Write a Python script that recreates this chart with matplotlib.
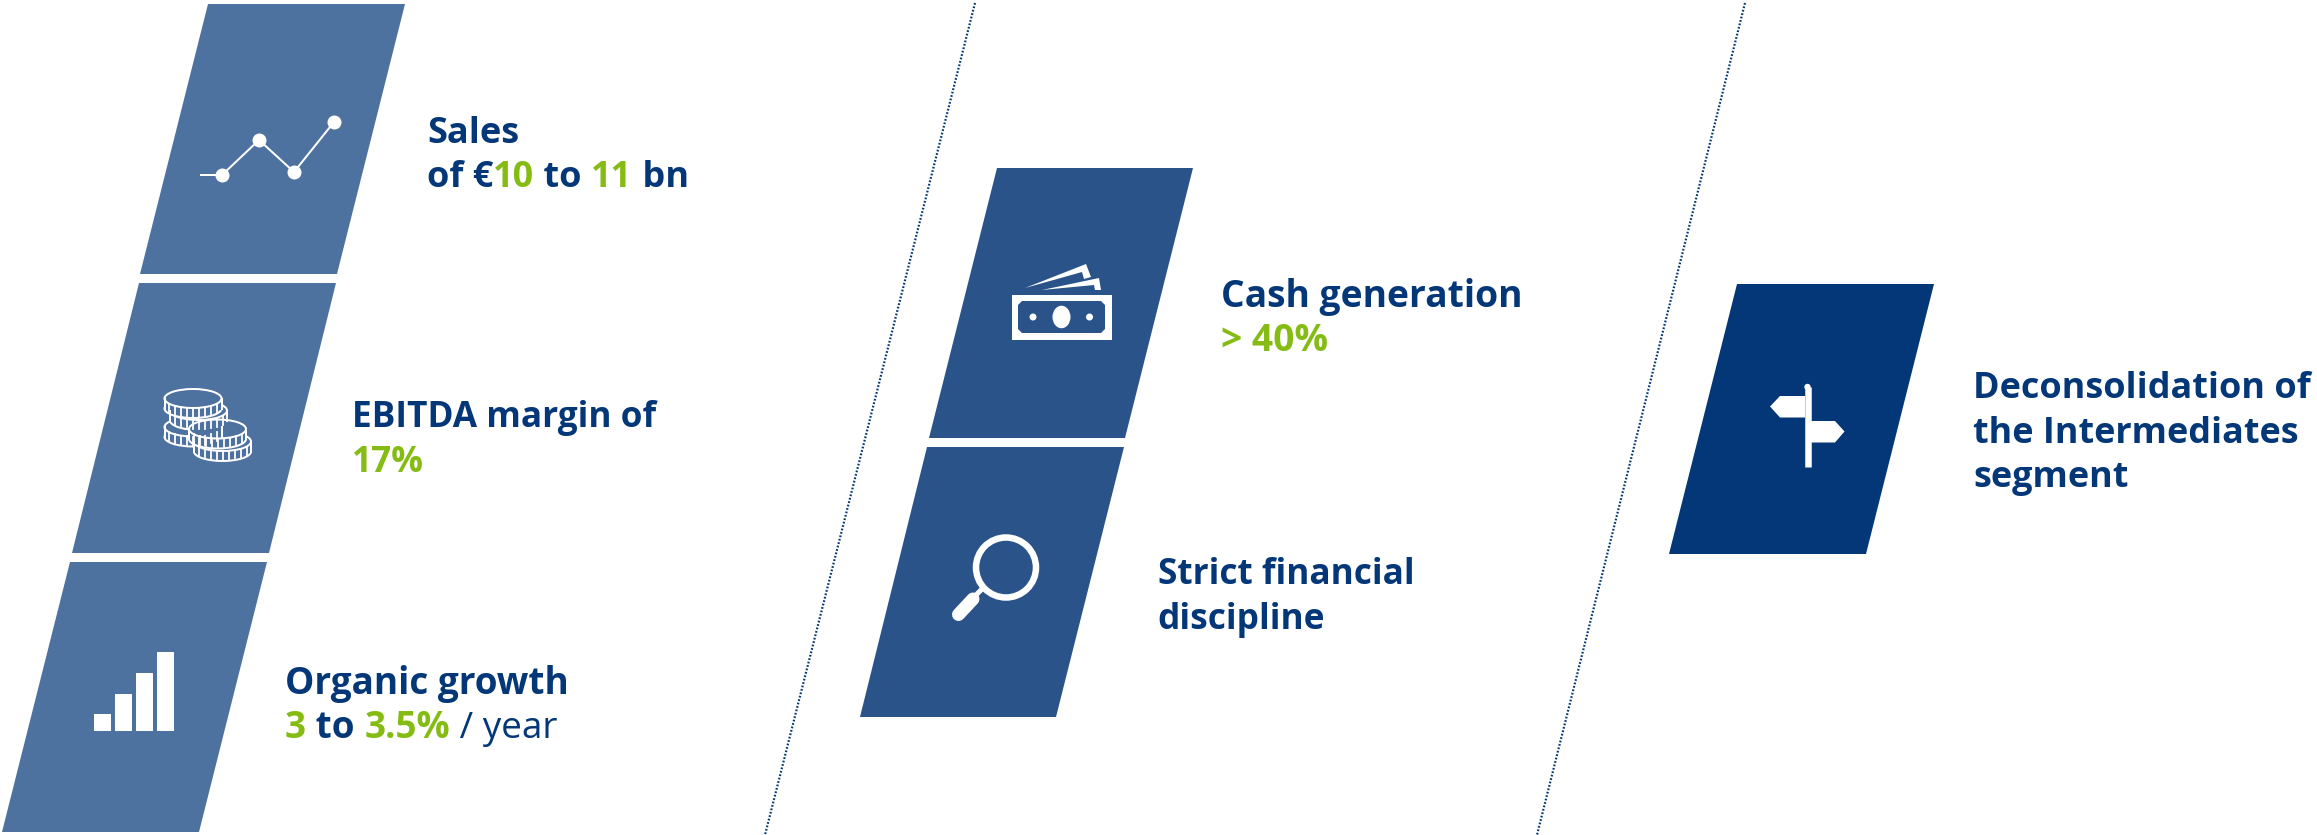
import matplotlib
matplotlib.use('Agg')
from matplotlib import pyplot as plt
from matplotlib.patches import Polygon, Ellipse, Rectangle, Circle

W = 2317
H = 835
PX = 0.72  # one pixel in points at dpi 100

NAVY = '#033778'
GREEN = '#85BC14'
LIGHT = '#4E72A0'
MID = '#2A5389'
FONT = 'Open Sans'

# each line of a label is a list of (text, colour, weight) runs
sales_lines = [[('Sales', NAVY, 'bold')],
               [('of €', NAVY, 'bold'), ('10', GREEN, 'bold'), (' to ', NAVY, 'bold'),
                ('11', GREEN, 'bold'), (' bn', NAVY, 'bold')]]
ebitda_lines = [[('EBITDA margin of', NAVY, 'bold')],
                [('17%', GREEN, 'bold')]]
organic_lines = [[('Organic growth', NAVY, 'bold')],
                 [('3', GREEN, 'bold'), (' to ', NAVY, 'bold'), ('3.5%', GREEN, 'bold'),
                  (' / year', NAVY, 'normal')]]
cash_lines = [[('Cash generation', NAVY, 'bold')],
              [('> 40%', GREEN, 'bold')]]
strict_lines = [[('Strict financial', NAVY, 'bold')],
                [('discipline', NAVY, 'bold')]]
decons_lines = [[('Deconsolidation of', NAVY, 'bold')],
                [('the Intermediates', NAVY, 'bold')],
                [('segment', NAVY, 'bold')]]

fig = plt.figure(figsize=(W / 100, H / 100), dpi=100)
ax = fig.add_axes([0, 0, 1, 1])
ax.set_xlim(0, W)
ax.set_ylim(H, 0)
ax.axis('off')


def panel(tl, tr, bl, br, top, bottom, color):
    ax.add_patch(Polygon([(tl, top), (tr, top), (br, bottom), (bl, bottom)], closed=True,
                         facecolor=color, edgecolor='none'))


def label(x, baselines, lines, size):
    renderer = fig.canvas.get_renderer()
    for y, runs in zip(baselines, lines):
        pos = x
        for s, color, weight in runs:
            ax.text(pos, y, s, color=color, fontsize=size, fontweight=weight,
                    family=FONT, va='baseline', ha='left')
            # measure with a trailing dot so that spaces count
            probe = ax.text(0, 0, s + '.', fontsize=size, fontweight=weight, family=FONT)
            dot = ax.text(0, 0, '.', fontsize=size, fontweight=weight, family=FONT)
            pos += probe.get_window_extent(renderer).width - dot.get_window_extent(renderer).width
            probe.remove()
            dot.remove()


def coin(cx, cy, color):
    w, h, d = 57, 19, 10
    ax.add_patch(Rectangle((cx - w / 2, cy), w, d, facecolor=color, edgecolor='none'))
    ax.add_patch(Ellipse((cx, cy + d), w, h, facecolor=color, edgecolor='white', linewidth=2 * PX))
    ax.add_patch(Rectangle((cx - w / 2 + 1, cy), w - 2, d + 1, facecolor=color, edgecolor='none'))
    ax.plot([cx - w / 2, cx - w / 2], [cy, cy + d], color='white', lw=2 * PX)
    ax.plot([cx + w / 2, cx + w / 2], [cy, cy + d], color='white', lw=2 * PX)
    for k in range(-4, 5):
        dx = k * 6
        yy = cy + (h / 2) * (1 - (dx / (w / 2)) ** 2) ** 0.5
        ax.plot([cx + dx, cx + dx], [yy, yy + d - 1], color='white', lw=1.8 * PX)
    ax.add_patch(Ellipse((cx, cy), w, h, facecolor=color, edgecolor='white', linewidth=2 * PX))


# dotted separators
ax.plot([975, 765], [3, 835], color=NAVY, lw=2.2 * PX, ls=(0, (0.8, 0.8)))
ax.plot([1745, 1537], [3, 835], color=NAVY, lw=2.2 * PX, ls=(0, (0.8, 0.8)))

panel(208, 405, 140, 337, 4, 274, LIGHT)
panel(139, 336, 72, 269, 283, 553, LIGHT)
panel(70, 267, 2, 199, 562, 832, LIGHT)
panel(997, 1193, 929, 1125, 168, 438, MID)
panel(927, 1124, 860, 1056, 447, 717, MID)
panel(1737, 1934, 1669, 1866, 284, 554, NAVY)

# line chart icon
ax.plot([201, 222, 259, 294, 334], [175, 175, 140, 172, 122], color='white', lw=2 * PX)
ax.plot([222, 259, 294, 334], [175, 140, 172, 122], 'o', color='white', ms=14 * PX, mew=0)

# coins icon
coin(193, 427, LIGHT)
coin(198.5, 410.5, LIGHT)
coin(193, 398.5, LIGHT)
coin(222.5, 441.5, LIGHT)
coin(217.5, 429, LIGHT)

# bars icon
for x0, top in zip([94, 115, 136, 157], [714, 694, 673, 652]):
    ax.add_patch(Rectangle((x0, top), 16.5, 731 - top, facecolor='white', edgecolor='none'))

# banknotes icon
ax.add_patch(Polygon([(1025, 288), (1086, 264), (1091, 277), (1084, 279), (1082, 272)], facecolor='white', edgecolor='none'))
ax.add_patch(Polygon([(1042, 290), (1099, 278), (1101, 290), (1095, 290), (1094, 285)], facecolor='white', edgecolor='none'))
ax.add_patch(Rectangle((1011.5, 294.5), 100, 45, facecolor='white', edgecolor='none'))
ax.add_patch(Polygon([(1022, 301), (1101, 301), (1105, 305), (1105, 329), (1101, 333), (1022, 333), (1018, 329), (1018, 305)],
                     facecolor=MID, edgecolor='none'))
ax.add_patch(Ellipse((1061.5, 317), 18, 22.5, facecolor='white', edgecolor='none'))
ax.add_patch(Circle((1033, 317), 3.5, facecolor='white', edgecolor='none'))
ax.add_patch(Circle((1089.5, 317), 3.5, facecolor='white', edgecolor='none'))

# magnifier icon
ax.add_patch(Circle((1006, 567.5), 30, facecolor='none', edgecolor='white', linewidth=6.5 * PX))
ax.plot([983, 973], [588, 598], color='white', lw=5 * PX)
ax.plot([973, 958.5], [599, 614.5], color='white', lw=13 * PX, solid_capstyle='round')

# signpost icon
ax.plot([1807.5, 1807.5], [387, 467], color='white', lw=6.5 * PX, solid_capstyle='butt')
ax.add_patch(Circle((1807.5, 387), 3.2, facecolor='white', edgecolor='none'))
ax.add_patch(Polygon([(1805, 396), (1780, 396), (1770, 406.5), (1780, 417.5), (1805, 417.5)], facecolor='white', edgecolor='none'))
ax.add_patch(Polygon([(1810, 421), (1835, 421), (1844.5, 431.5), (1835, 442.5), (1810, 442.5)], facecolor='white', edgecolor='none'))

# labels
label(427, [143, 187], sales_lines, 26)
label(352, [427, 472], ebitda_lines, 25.4)
label(285, [694, 738], organic_lines, 26.6)
label(1221, [307, 351], cash_lines, 26.8)
label(1157.5, [584, 629], strict_lines, 25.4)
label(1973, [398, 443, 487], decons_lines, 25.9)

fig.savefig('out.png', dpi=100)
